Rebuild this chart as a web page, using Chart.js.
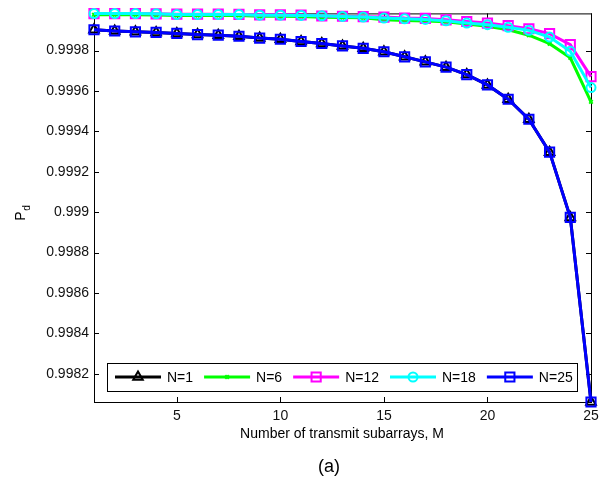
<!DOCTYPE html>
<html lang="en">
  <head>
    <meta charset="UTF-8">
    <title>Pd vs number of transmit subarrays</title>
    <script src="https://cdn.jsdelivr.net/npm/chart.js"></script>
    <style>
      body { margin: 0; background: #fff; }
      canvas { display: block; }
    </style>
  </head>
  <body>
    <canvas id="pdChart" width="606" height="481"></canvas>
    <script>
      // number of transmit subarrays M
      const subarrays = [1, 2, 3, 4, 5, 6, 7, 8, 9, 10, 11, 12, 13, 14, 15, 16, 17, 18, 19, 20, 21, 22, 23, 24, 25];
      const pdN1 = [0.999903, 0.999897, 0.999893, 0.99989, 0.999885, 0.999879, 0.999876, 0.999871, 0.999862, 0.999856,
        0.999845, 0.999835, 0.999823, 0.999811, 0.999794, 0.999769, 0.999744, 0.999718, 0.999681, 0.99963,
        0.999559, 0.99946, 0.999297, 0.998974, 0.99806];
      const pdN6 = [0.999977, 0.999977, 0.999977, 0.999976, 0.999974, 0.999974, 0.999974, 0.999973, 0.99997, 0.99997,
        0.999969, 0.999965, 0.999964, 0.999962, 0.999952, 0.999949, 0.999946, 0.999943, 0.999931, 0.99992,
        0.999903, 0.999876, 0.999834, 0.999764, 0.999546];
      const pdN12 = [0.999983, 0.999983, 0.999983, 0.999982, 0.99998, 0.99998, 0.99998, 0.999979, 0.999977, 0.999977,
        0.999976, 0.999971, 0.99997, 0.999968, 0.999966, 0.999961, 0.999959, 0.999952, 0.999944, 0.999936,
        0.999923, 0.999908, 0.999884, 0.999829, 0.999671];
      const pdN18 = [0.999983, 0.999983, 0.999983, 0.999982, 0.999979, 0.999979, 0.999979, 0.999978, 0.999975, 0.999975,
        0.999974, 0.999972, 0.999969, 0.999966, 0.999961, 0.999957, 0.999954, 0.999947, 0.999936, 0.999928,
        0.999915, 0.9999, 0.999867, 0.999797, 0.999617];
      const pdN25 = [0.999903, 0.999897, 0.999893, 0.99989, 0.999885, 0.999879, 0.999876, 0.999871, 0.999862, 0.999856,
        0.999845, 0.999835, 0.999823, 0.999811, 0.999794, 0.999769, 0.999744, 0.999718, 0.999681, 0.99963,
        0.999559, 0.99946, 0.999297, 0.998974, 0.99806];

      const xTicks = [5, 10, 15, 20, 25];
      const yTicks = [0.9982, 0.9984, 0.9986, 0.9988, 0.999, 0.9992, 0.9994, 0.9996, 0.9998];
      const seriesLabels = ['N=1', 'N=6', 'N=12', 'N=18', 'N=25'];
      const seriesValues = [pdN1, pdN6, pdN12, pdN18, pdN25];

      const seriesColors = ['#000000', '#00ff00', '#ff00ff', '#00ffff', '#0000ff'];
      const seriesMarkers = ['triangle', 'crossRot', 'rect', 'circle', 'rect'];
      const markerRadius = [5.5, 2.5, 6.5, 4.5, 6.5];

      const FONT = '"Liberation Sans", Arial, Helvetica, sans-serif';

      const datasets = seriesValues.map((vals, i) => ({
        label: seriesLabels[i],
        data: subarrays.map((m, j) => ({ x: m, y: vals[j] })),
        borderColor: seriesColors[i],
        borderWidth: 3,
        pointStyle: seriesMarkers[i],
        pointRadius: markerRadius[i],
        pointBorderWidth: 2,
        pointBorderColor: seriesColors[i],
        pointBackgroundColor: 'rgba(0,0,0,0)',
        tension: 0,
        clip: false,
        order: seriesValues.length - i
      }));

      // box with inward ticks, legend inside the axes, axis titles
      const framePlugin = {
        id: 'framePlugin',
        beforeDatasetsDraw(chart) {
          const { ctx, chartArea: a, scales } = chart;
          ctx.save();
          ctx.strokeStyle = '#000';
          ctx.lineWidth = 1;
          ctx.strokeRect(a.left + 0.5, a.top + 0.5, a.right - a.left, a.bottom - a.top);
          ctx.beginPath();
          xTicks.forEach(v => {
            const px = Math.round(scales.x.getPixelForValue(v)) + 0.5;
            ctx.moveTo(px, a.bottom); ctx.lineTo(px, a.bottom - 5);
            ctx.moveTo(px, a.top); ctx.lineTo(px, a.top + 5);
          });
          yTicks.forEach(v => {
            const py = Math.round(scales.y.getPixelForValue(v)) + 0.5;
            ctx.moveTo(a.left, py); ctx.lineTo(a.left + 5, py);
            ctx.moveTo(a.right, py); ctx.lineTo(a.right - 5, py);
          });
          ctx.stroke();
          ctx.restore();
        },
        afterDatasetsDraw(chart) {
          const ctx = chart.ctx;
          ctx.save();
          ctx.fillStyle = '#fff';
          ctx.fillRect(107, 363, 470, 28);
          ctx.strokeStyle = '#000';
          ctx.lineWidth = 1;
          ctx.strokeRect(107.5, 363.5, 470, 28);
          ctx.font = '14px ' + FONT;
          ctx.textBaseline = 'middle';
          ctx.textAlign = 'left';
          let x = 115;
          const y = 377;
          chart.data.datasets.forEach(ds => {
            ctx.strokeStyle = ds.borderColor;
            ctx.lineWidth = 3;
            ctx.beginPath();
            ctx.moveTo(x, y); ctx.lineTo(x + 46, y);
            ctx.stroke();
            ctx.lineWidth = 2;
            ctx.fillStyle = 'rgba(0,0,0,0)';
            Chart.helpers.drawPoint(ctx, { pointStyle: ds.pointStyle, radius: ds.pointRadius, borderWidth: 2, rotation: 0 }, x + 23, y);
            ctx.fillStyle = '#000';
            ctx.fillText(ds.label, x + 52, y + 1);
            x += 52 + ctx.measureText(ds.label).width + 11;
          });
          ctx.restore();
        },
        afterDraw(chart) {
          const ctx = chart.ctx;
          ctx.save();
          ctx.fillStyle = '#000';
          ctx.textAlign = 'center';
          ctx.textBaseline = 'middle';
          ctx.font = '14px ' + FONT;
          ctx.fillText('Number of transmit subarrays, M', 342, 434);
          ctx.font = '18px ' + FONT;
          ctx.fillText('(a)', 329, 467);
          ctx.translate(21, 216);
          ctx.rotate(-Math.PI / 2);
          ctx.font = '14px ' + FONT;
          ctx.fillText('P', 0, 0);
          ctx.font = '10px ' + FONT;
          ctx.fillText('d', 8, 6);
          ctx.restore();
        }
      };

      new Chart(document.getElementById('pdChart'), {
        type: 'line',
        data: { datasets },
        options: {
          responsive: false,
          animation: false,
          layout: { padding: { left: 0, top: 10, right: 15, bottom: 0 } },
          plugins: { legend: { display: false }, tooltip: { enabled: false } },
          scales: {
            x: {
              type: 'linear',
              min: 1,
              max: 25,
              grid: { display: false, drawTicks: false },
              border: { display: false },
              afterBuildTicks: s => { s.ticks = xTicks.map(v => ({ value: v })); },
              afterFit: s => { s.height = 79; },
              ticks: { color: '#111', padding: 6, maxRotation: 0, font: { family: FONT, size: 14 } }
            },
            y: {
              type: 'linear',
              min: 0.99806,
              max: 0.999984,
              grid: { display: false, drawTicks: false },
              border: { display: false },
              afterBuildTicks: s => { s.ticks = yTicks.map(v => ({ value: v })); },
              afterFit: s => { s.width = 94; },
              ticks: {
                color: '#111',
                padding: 5,
                font: { family: FONT, size: 14 },
                callback: v => String(+v.toFixed(4))
              }
            }
          }
        },
        plugins: [framePlugin]
      });
    </script>
  </body>
</html>
